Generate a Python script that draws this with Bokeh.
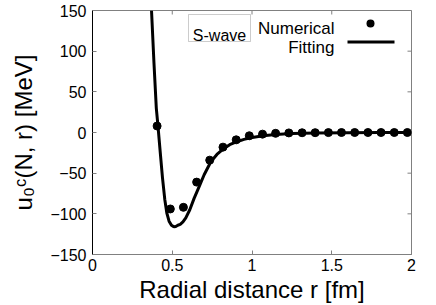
from bokeh.plotting import figure
from bokeh.models import Range1d, Label, BoxAnnotation, FixedTicker
from bokeh.embed import file_html
from bokeh.resources import INLINE

# Numerical data points (r in fm, u in MeV)
r_num = [0.405, 0.488, 0.570, 0.653, 0.735, 0.818, 0.901, 0.983, 1.066, 1.148,
         1.231, 1.314, 1.396, 1.479, 1.561, 1.644, 1.727, 1.809, 1.892, 1.974]
u_num = [8, -94, -92, -61, -34, -18, -9, -4, -2, -1,
         -0.5, -0.3, -0.2, -0.1, 0, 0, 0, 0, 0, 0]

# Fitting curve
r_fit = [0.37, 0.385, 0.40, 0.411, 0.425, 0.439, 0.453, 0.466, 0.48, 0.495,
         0.51, 0.522, 0.535, 0.55, 0.567, 0.585, 0.61, 0.637, 0.67, 0.70,
         0.742, 0.78, 0.815, 0.86, 0.909, 0.95, 0.992, 1.07, 1.149, 1.25,
         1.4, 1.6, 1.8, 2.0]
u_fit = [150, 87, 30, 7, -25, -56, -82, -99, -109, -114,
         -116, -115.5, -114, -113, -110, -105, -95, -81, -66, -52,
         -36, -27, -21, -15, -11, -8.5, -6.5, -4, -2.5, -1.3,
         -0.6, -0.2, -0.1, 0]

x_ticks = [0, 0.5, 1, 1.5, 2]
y_ticks = [-150, -100, -50, 0, 50, 100, 150]
x_min, x_max = 0, 2
y_min, y_max = -150, 150

FONT = "Liberation Sans"
GRAY = "#808080"
FW, FH = 319, 244

p = figure(width=436, height=305, output_backend="svg",
           toolbar_location=None, x_range=Range1d(x_min, x_max),
           y_range=Range1d(y_min, y_max),
           min_border_left=92, min_border_top=10, min_border_right=25,
           min_border_bottom=51, background_fill_color="white",
           border_fill_color="white")
p.grid.visible = False
p.outline_line_color = GRAY

# mirrored inward ticks on top and right edges
tick_dy = (y_max - y_min) * 4 / FH
tick_dx = (x_max - x_min) * 4 / FW
p.segment(x0=x_ticks, y0=[y_max] * len(x_ticks), x1=x_ticks,
          y1=[y_max - tick_dy] * len(x_ticks), line_color=GRAY, line_width=1)
p.segment(x0=[x_max] * len(y_ticks), y0=y_ticks, x1=[x_max - tick_dx] * len(y_ticks),
          y1=y_ticks, line_color=GRAY, line_width=1)

p.line(r_fit, u_fit, line_color="black", line_width=3)
p.scatter(r_num, u_num, size=8, color="black")

for ax in (p.xaxis[0], p.yaxis[0]):
    ax.major_tick_in = 4
    ax.major_tick_out = 0
    ax.minor_tick_line_color = None
    ax.major_tick_line_color = GRAY
    ax.major_label_text_font = FONT
    ax.major_label_text_font_size = "16px"
    ax.major_label_text_color = "black"
    ax.axis_label_text_font = FONT
    ax.axis_label_text_font_size = "24px"
    ax.axis_label_text_font_style = "normal"
    ax.axis_label_text_color = "black"

p.xaxis[0].ticker = FixedTicker(ticks=x_ticks)
p.yaxis[0].ticker = FixedTicker(ticks=y_ticks)
p.xaxis[0].axis_line_color = GRAY
p.yaxis[0].axis_line_color = "black"
p.xaxis[0].axis_label = "Radial distance r [fm]"
p.yaxis[0].axis_label = "u\u2080\u1d9c(N, r) [MeV]"
p.xaxis[0].major_label_standoff = 4
p.xaxis[0].axis_label_standoff = 2
p.yaxis[0].major_label_standoff = 6
p.yaxis[0].axis_label_standoff = 10

# Legend-like annotations (screen units, relative to the frame)
p.add_layout(BoxAnnotation(left=96, right=158, top=240, bottom=213,
                           left_units="screen", right_units="screen",
                           top_units="screen", bottom_units="screen",
                           fill_color="white", fill_alpha=1, line_color="#555555",
                           line_width=1))
p.add_layout(Label(x=127, y=219, x_units="screen", y_units="screen", text="S-wave",
                   text_font=FONT, text_font_size="16px", text_align="center",
                   text_baseline="alphabetic", text_color="black"))
p.add_layout(Label(x=242, y=226, x_units="screen", y_units="screen", text="Numerical",
                   text_font=FONT, text_font_size="17px", text_align="right",
                   text_baseline="alphabetic", text_color="black"))
p.add_layout(Label(x=242, y=207, x_units="screen", y_units="screen", text="Fitting",
                   text_font=FONT, text_font_size="17px", text_align="right",
                   text_baseline="alphabetic", text_color="black"))
p.add_layout(BoxAnnotation(left=274, right=282, top=235, bottom=227,
                           left_units="screen", right_units="screen",
                           top_units="screen", bottom_units="screen",
                           fill_color="black", fill_alpha=1, line_color=None,
                           border_radius=4))
p.add_layout(BoxAnnotation(left=255, right=302, top=214, bottom=211,
                           left_units="screen", right_units="screen",
                           top_units="screen", bottom_units="screen",
                           fill_color="black", fill_alpha=1, line_color=None))

open("out.html", "w").write(file_html(p, INLINE))
